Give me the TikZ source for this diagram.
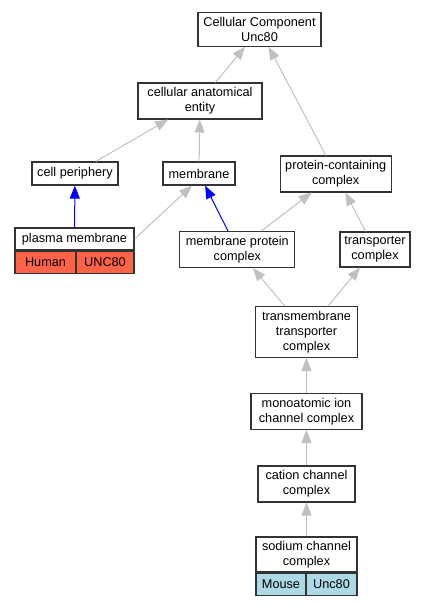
\documentclass[tikz,border=0pt]{standalone}
\usepackage{fontspec}
\setmainfont{Liberation Sans}
\usetikzlibrary{arrows.meta}
\definecolor{isagray}{HTML}{C0C0C0}
\definecolor{humanfill}{HTML}{FF6347}
\definecolor{mousefill}{HTML}{ADD8E6}

\begin{document}
\begin{tikzpicture}[x=1pt, y=-1pt,
    term/.style={draw=black!80, line width=1.2pt, fill=white, align=center,
        inner xsep=2pt, inner ysep=4.5pt, minimum height=23pt,
        font=\fontsize{12.7}{15}\selectfont},
    cell/.style={term, inner ysep=0pt, minimum height=22pt},
    isa/.style={-{Triangle[length=13pt, width=10pt]}, isagray, line width=1pt},
    partof/.style={isa, blue}
]
    \useasboundingbox (0,0) rectangle (428,605);

    % terms, top to bottom
    \node[term, minimum width=123pt] (cc) at (259.5,29.5) {Cellular Component\\Unc80};
    \node[term, minimum width=124pt] (cae) at (200,101) {cellular anatomical\\entity};
    \node[term, minimum width=86pt] (cp) at (75,173.5) {cell periphery};
    \node[term, minimum width=72pt] (mem) at (199,173.5) {membrane};
    \node[term, minimum width=111pt] (pcc) at (335.7,174) {protein-containing\\complex};
    \node[term, minimum width=115pt] (mpc) at (237.3,249.5) {membrane protein\\complex};
    \node[term, minimum width=70pt] (tc) at (375,249.5) {transporter\\complex};
    \node[term, minimum width=102pt] (tmtc) at (306.5,332) {transmembrane\\transporter\\complex};
    \node[term, minimum width=111pt] (mic) at (306.5,411.5) {monoatomic ion\\channel complex};
    \node[term, minimum width=97pt] (ccc) at (306.5,484) {cation channel\\complex};

    % annotated terms
    \node[cell, minimum width=119pt] (pm) at (74.5,239) {plasma membrane};
    \node[cell, anchor=north west, fill=humanfill, minimum width=61pt] (pmhuman) at (pm.south west) {Human};
    \node[cell, anchor=north east, fill=humanfill, minimum width=58pt] (pmgene) at (pm.south east) {UNC80};

    \node[term, minimum width=101pt, minimum height=35pt, inner ysep=3pt] (scc) at (306.5,554.5) {sodium channel\\complex};
    \node[cell, anchor=north west, fill=mousefill, minimum width=50pt] (sccmouse) at (scc.south west) {Mouse};
    \node[cell, anchor=north east, fill=mousefill, minimum width=51pt] (sccgene) at (scc.south east) {Unc80};

    % is_a
    \draw[isa] (cae) -- (cc);
    \draw[isa] (pcc) -- (cc);
    \draw[isa] (cp) -- (cae);
    \draw[isa] (mem) -- (cae);
    \draw[isa] (pm.east) -- ([xshift=-7pt]mem.south);
    \draw[isa] (mpc) -- (pcc);
    \draw[isa] (tc) -- (pcc);
    \draw[isa] (tmtc) -- (mpc);
    \draw[isa] (tmtc) -- (tc);
    \draw[isa] (mic) -- (tmtc);
    \draw[isa] (ccc) -- (mic);
    \draw[isa] (scc) -- (ccc);

    % part_of
    \draw[partof] (pm) -- (cp);
    \draw[partof] (mpc) -- (mem);
\end{tikzpicture}
\end{document}
